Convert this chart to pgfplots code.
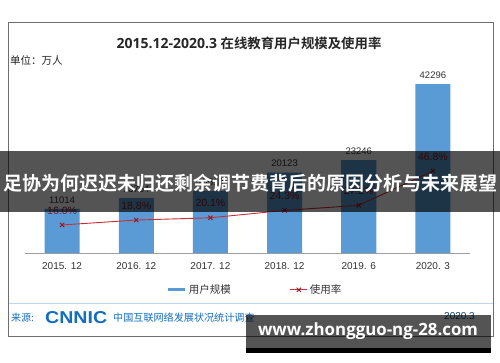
\documentclass[border=0pt]{standalone}
\usepackage{pgfplots}
\pgfplotsset{compat=1.18}
\usepackage{fontspec}
\setmainfont{Liberation Sans}
\newfontfamily\cjk{Noto Sans CJK SC}[BoldFont={Noto Sans CJK SC Bold}]
\newfontfamily\opensans{Open Sans}[BoldFont={Open Sans Bold}]
\definecolor{barblue}{RGB}{91,155,213}
\definecolor{linered}{RGB}{200,45,55}
\definecolor{markred}{RGB}{150,20,30}
\definecolor{pctred}{RGB}{140,25,30}
\definecolor{cnblue}{RGB}{20,110,190}
\definecolor{footline}{RGB}{190,215,238}
\definecolor{framegray}{RGB}{110,110,110}
\begin{document}
\begin{tikzpicture}
\fill[white] (0,0) rectangle (500pt,-362pt);
\path[use as bounding box] (0,0) rectangle (500pt,-362pt);
% outer frame
\draw[framegray, line width=0.9pt] (8pt,-22pt) rectangle (493pt,-336pt);
% title and unit
\node[anchor=center, text=black!85] at (249pt,-43pt)
  {\opensans\bfseries\fontsize{14}{16}\selectfont 2015.12-2020.3 {\cjk\bfseries\fontsize{13.4}{16}\selectfont 在线教育用户规模及使用率}};
\node[anchor=west, inner sep=0pt, text=black!85] at (10pt,-60pt)
  {\cjk\fontsize{10.5}{12}\selectfont 单位：万人};

\begin{axis}[
  at={(25pt,-253pt)}, anchor=south west,
  scale only axis, width=445pt, height=184pt,
  xmin=-0.5, xmax=5.5, ymin=0, ymax=46050,
  axis y line=none, axis x line*=bottom,
  x axis line style={draw=gray!75, line width=0.6pt},
  xtick={0,1,2,3,4,5},
  xticklabels={2015. 12,2016. 12,2017. 12,2018. 12,2019. 6,2020. 3},
  xtick style={draw=none},
  tick align=outside, major tick length=4pt,
  extra x ticks={-0.5,0.5,1.5,2.5,3.5,4.5,5.5},
  extra x tick labels={},
  extra x tick style={tick style={draw=gray!75, line width=0.6pt}},
  xticklabel style={font=\fontsize{10}{12}\selectfont, text=black!80, yshift=-2pt},
  ybar, bar width=35pt,
  nodes near coords,
  every node near coord/.append style={font=\fontsize{9.5}{11}\selectfont, text=black!80, yshift=2pt},
  /pgf/number format/1000 sep={},
  /pgf/number format/assume math mode=true,
  clip=false,
]
\addplot[fill=barblue, draw=none] coordinates {(0,11014) (1,13764) (2,15518) (3,20123) (4,23246) (5,42296)};
\end{axis}

\begin{axis}[
  at={(25pt,-253pt)}, anchor=south west,
  scale only axis, width=445pt, height=184pt,
  xmin=-0.5, xmax=5.5, ymin=0, ymax=105,
  hide axis, clip=false,
  legend columns=2,
  legend style={draw=none, fill=none, at={(0.517,-0.2)}, anchor=center,
    font=\cjk\fontsize{10.5}{12}\selectfont, text=black!80,
    /tikz/every even column/.append style={column sep=57pt}},
]
\addlegendimage{barblue, line width=3pt}
\addlegendentry{用户规模}
\addlegendimage{linered, line width=0.9pt, mark=x, mark size=3pt, mark options={markred, line width=0.9pt}}
\addlegendentry{使用率}
\addplot[forget plot, linered, line width=0.9pt, mark=x, mark size=3pt,
  mark options={markred, line width=0.9pt},
  nodes near coords, point meta=explicit symbolic,
  every node near coord/.append style={font=\fontsize{10.5}{12}\selectfont, text=pctred, yshift=7pt}]
  coordinates {(0,16.0) [16.0\%] (1,18.8) [18.8\%] (2,20.1) [20.1\%] (3,24.3) [24.3\%] (4,27.2) [27.2\%] (5,46.8) [46.8\%]};
\end{axis}

% footer
\draw[footline, line width=1pt] (8.5pt,-303pt) -- (492.5pt,-303pt);
\node[anchor=west, inner sep=0pt, text=cnblue] at (11pt,-318pt) {\cjk\fontsize{10}{12}\selectfont 来源:};
\node[anchor=west, inner sep=0pt, text=cnblue] at (45pt,-318pt) {\resizebox{62pt}{12pt}{\bfseries CNNIC}};
\node[anchor=west, inner sep=0pt, text=cnblue] at (113pt,-318pt) {\cjk\fontsize{10.1}{12}\selectfont 中国互联网络发展状况统计调查};
\node[anchor=east, inner sep=0pt, text=cnblue!60!black] at (475pt,-316pt) {\fontsize{10}{12}\selectfont 2020.3};

% overlay banner
\fill[black, opacity=0.67] (0,-151pt) rectangle (500pt,-212pt);
\node[text=white, inner sep=0pt] at (250pt,-183pt)
  {\resizebox{494pt}{!}{\cjk\bfseries\fontsize{19}{22}\selectfont 足协为何迟迟未归还剩余调节费背后的原因分析与未来展望}};
% bottom box
\fill[black, opacity=0.67] (246pt,-315pt) rectangle (491pt,-348pt);
\fill[black] (246pt,-348pt) rectangle (491pt,-353pt);
\node[text=white, inner sep=0pt] at (368pt,-331pt)
  {\resizebox{220pt}{!}{\opensans\bfseries\fontsize{16}{18}\selectfont www.zhongguo-ng-28.com}};
\end{tikzpicture}
\end{document}
